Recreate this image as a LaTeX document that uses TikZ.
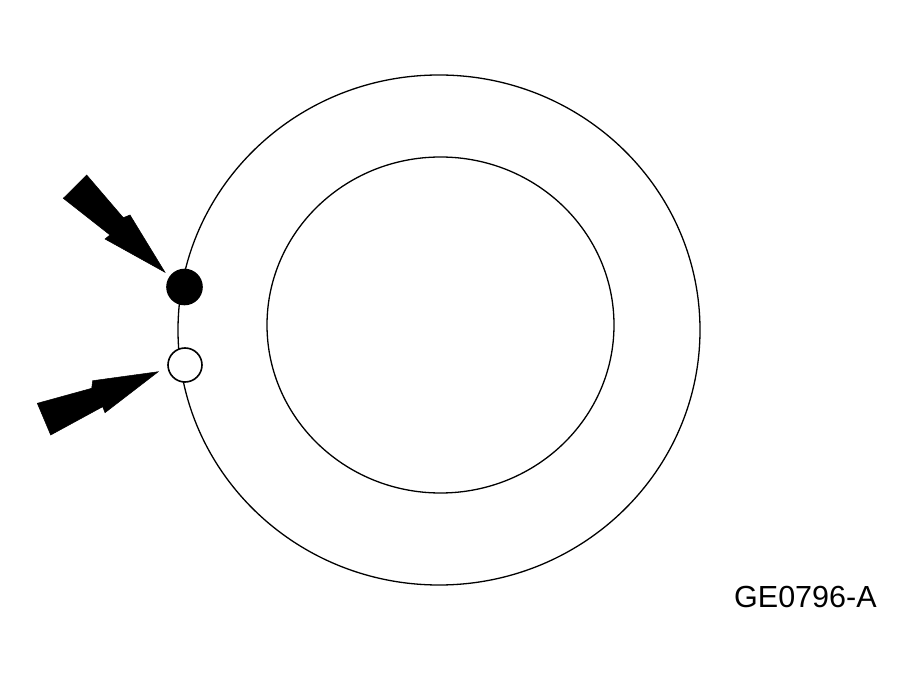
\documentclass[tikz,border=0pt]{standalone}
\usepackage{fontspec}
\setmainfont{Liberation Sans}
\begin{document}
\begin{tikzpicture}[x=1pt,y=-1pt,
  ring/.style={draw=black,line width=1.3pt},
  dotfill/.style={circle,draw=black,fill=black,line width=1.6pt,minimum size=35pt,inner sep=0pt},
  dotopen/.style={circle,draw=black,fill=white,line width=1.6pt,minimum size=34pt,inner sep=0pt},
  bolt/.style={fill=black,draw=black,line width=0.5pt,line join=miter}]
\useasboundingbox (0,0) rectangle (918,684);
\draw[ring] (439,330) ellipse [x radius=261, y radius=255];
\draw[ring] (440.5,325) ellipse [x radius=173.5, y radius=168];
\node[dotfill] (d1) at (184.5,287) {};
\node[dotopen] (d2) at (185,365) {};
\coordinate (t1) at (165,272.3);
\coordinate (t2) at (158.3,371.7);
\filldraw[bolt] (63.3,198.3) -- (86.7,175) -- (123.3,217.7) -- (130,215) -- (t1) -- (105,239) -- (110,235) -- cycle;
\filldraw[bolt] (37.3,403.3) -- (91.7,388.3) -- (92.7,380.7) -- (t2) -- (105,412.7) -- (102.7,406.7) -- (50.7,435) -- cycle;
\node[font=\fontsize{30.5}{34}\selectfont,anchor=base west,inner sep=0pt] (lbl) at (734,607) {GE0796-A};
\end{tikzpicture}
\end{document}
